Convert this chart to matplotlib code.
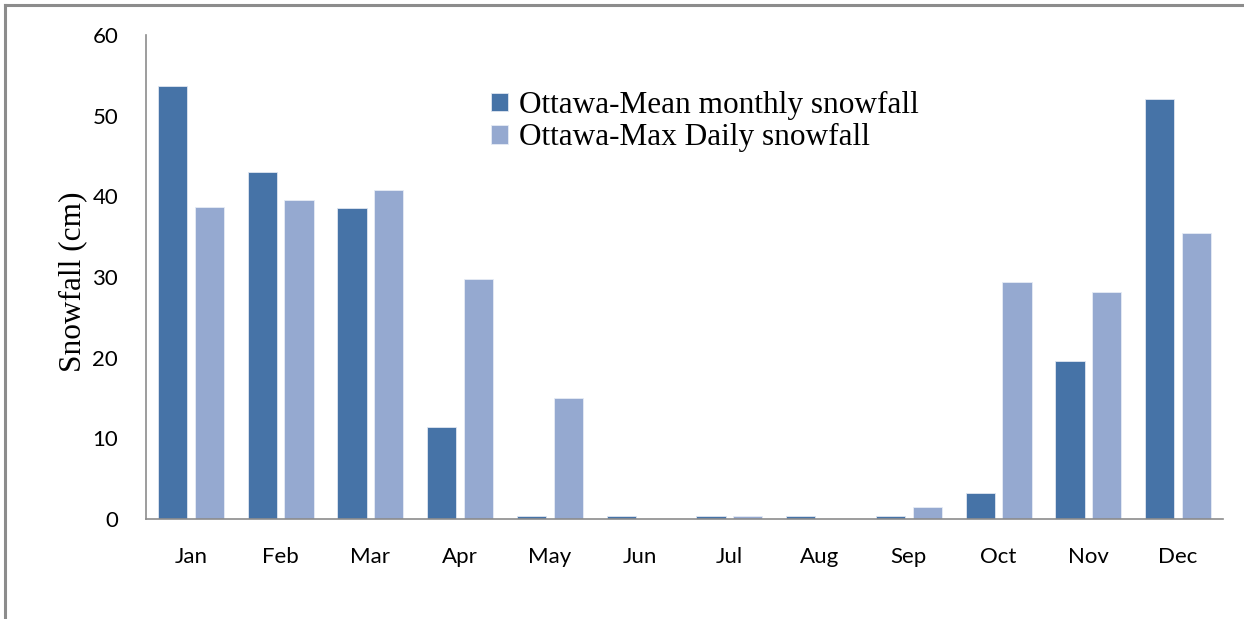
import numpy as np
import matplotlib.pyplot as plt
from matplotlib.lines import Line2D

months = ['Jan', 'Feb', 'Mar', 'Apr', 'May', 'Jun',
          'Jul', 'Aug', 'Sep', 'Oct', 'Nov', 'Dec']
mean_monthly = [53.7, 43.0, 38.6, 11.4, 0.4, 0.4, 0.4, 0.4, 0.4, 3.2, 19.6, 52.1]
max_daily = [38.7, 39.5, 40.8, 29.7, 15.0, 0.0, 0.4, 0.0, 1.5, 29.4, 28.2, 35.4]
labels = ['Ottawa-Mean monthly snowfall', 'Ottawa-Max Daily snowfall']

dark = '#4673A7'
light = '#95A9D0'

fig = plt.figure(figsize=(12.44, 6.19), dpi=100)
ax = fig.add_axes([146 / 1244, 1 - 519 / 619, 1077 / 1244, 484 / 619])

x = np.arange(len(months))
w = 0.325
off = 0.205
ax.bar(x - off, mean_monthly, w, color=dark, edgecolor='#dfe6f0', linewidth=0.6, label=labels[0])
ax.bar(x + off, max_daily, w, color=light, edgecolor='#e6ecf5', linewidth=0.6, label=labels[1])

ax.set_xlim(-0.5, len(months) - 0.5)
ax.set_ylim(0, 60)
ax.set_yticks(range(0, 61, 10))
ax.set_xticks(x)
ax.set_xticklabels(months)
ax.tick_params(axis='both', length=0, labelsize=16)
ax.tick_params(axis='x', pad=20)
ax.tick_params(axis='y', pad=20)
for lab in ax.get_xticklabels() + ax.get_yticklabels():
    lab.set_fontfamily('Lato')

for s in ['top', 'right']:
    ax.spines[s].set_visible(False)
for s in ['left', 'bottom']:
    ax.spines[s].set_color('#8c8c8c')
    ax.spines[s].set_linewidth(1.2)

ax.set_ylabel('Snowfall (cm)', fontfamily='Liberation Serif', fontsize=22.5)
ax.yaxis.set_label_coords(-0.055, 0.49)

ax.legend(loc='upper left', bbox_to_anchor=(0.309, 0.91), frameon=False,
          prop={'family': 'Liberation Serif', 'size': 22.5},
          handlelength=0.55, handleheight=0.55, handletextpad=0.35,
          labelspacing=0.1, borderaxespad=0)

# outer frame (top and left edges only)
fig.add_artist(Line2D([5 / 1244, 1], [1 - 5 / 619, 1 - 5 / 619],
                      transform=fig.transFigure, color='#8c8c8c', linewidth=2.2))
fig.add_artist(Line2D([5 / 1244, 5 / 1244], [0, 1 - 5 / 619],
                      transform=fig.transFigure, color='#8c8c8c', linewidth=2.2))

fig.savefig('out.png', dpi=100, facecolor='white')
